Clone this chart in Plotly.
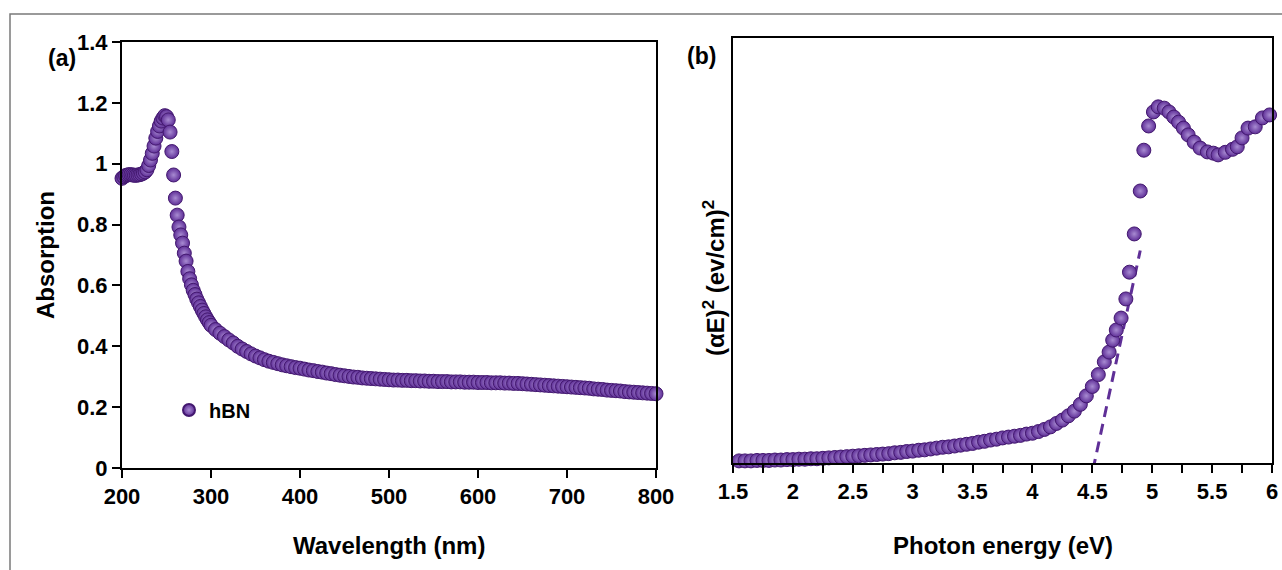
import plotly.graph_objects as go

# ---------------- data: panel (a) UV-vis absorption ----------------
wavelength_nm = [
    200, 202, 204, 206, 208, 210, 212, 214, 216, 218, 220, 222, 224, 226, 228,
    230, 232, 234, 236, 238, 240, 242, 244, 246, 248, 250, 252, 254, 256, 258,
    260, 262, 264, 266, 268, 270, 272, 274, 276, 278, 280, 282, 284, 286, 288,
    290, 292, 294, 296, 298, 300,
    305, 310, 315, 320, 325, 330, 335, 340, 345, 350, 355, 360, 365, 370, 375,
    380, 385, 390, 395, 400, 405, 410, 415, 420, 425, 430, 435, 440, 445, 450,
    455, 460, 465, 470, 475, 480, 485, 490, 495, 500, 505, 510, 515, 520, 525,
    530, 535, 540, 545, 550, 555, 560, 565, 570, 575, 580, 585, 590, 595, 600,
    605, 610, 615, 620, 625, 630, 635, 640, 645, 650, 655, 660, 665, 670, 675,
    680, 685, 690, 695, 700, 705, 710, 715, 720, 725, 730, 735, 740, 745, 750,
    755, 760, 765, 770, 775, 780, 785, 790, 795, 800,
]
absorption = [
    0.952, 0.957, 0.961, 0.963, 0.964, 0.964, 0.963, 0.962, 0.962, 0.963, 0.964,
    0.966, 0.969, 0.973, 0.980, 0.994, 1.012, 1.034, 1.058, 1.084, 1.106, 1.124,
    1.140, 1.150, 1.158, 1.155, 1.144, 1.104, 1.040, 0.963, 0.887, 0.831, 0.792,
    0.766, 0.739, 0.706, 0.680, 0.646, 0.622, 0.602, 0.584, 0.570, 0.555, 0.543,
    0.531, 0.519, 0.508, 0.497, 0.487, 0.478, 0.469,
    0.455, 0.443, 0.432, 0.421, 0.411, 0.400, 0.391, 0.383, 0.375, 0.368, 0.362,
    0.356, 0.351, 0.347, 0.343, 0.339, 0.336, 0.333, 0.330, 0.328, 0.325, 0.322,
    0.320, 0.317, 0.315, 0.312, 0.310, 0.307, 0.305, 0.303, 0.301, 0.299, 0.298,
    0.296, 0.295, 0.294, 0.293, 0.292, 0.291, 0.290, 0.289, 0.289, 0.288, 0.288,
    0.287, 0.287, 0.286, 0.286, 0.285, 0.285, 0.284, 0.284, 0.284, 0.283, 0.283,
    0.283, 0.282, 0.282, 0.282, 0.281, 0.281, 0.281, 0.280, 0.280, 0.280, 0.279,
    0.279, 0.278, 0.278, 0.277, 0.276, 0.275, 0.274, 0.273, 0.272, 0.271, 0.270,
    0.269, 0.268, 0.267, 0.266, 0.265, 0.264, 0.263, 0.262, 0.260, 0.259, 0.258,
    0.256, 0.255, 0.254, 0.253, 0.251, 0.250, 0.249, 0.248, 0.247, 0.246, 0.245,
    0.244,
]

# ---------------- data: panel (b) Tauc plot ----------------
photon_energy_eV = [
    1.55, 1.60, 1.65, 1.70, 1.75, 1.80, 1.85, 1.90, 1.95, 2.00, 2.05, 2.10, 2.15,
    2.20, 2.25, 2.30, 2.35, 2.40, 2.45, 2.50, 2.55, 2.60, 2.65, 2.70, 2.75, 2.80,
    2.85, 2.90, 2.95, 3.00, 3.05, 3.10, 3.15, 3.20, 3.25, 3.30, 3.35, 3.40, 3.45,
    3.50, 3.55, 3.60, 3.65, 3.70, 3.75, 3.80, 3.85, 3.90, 3.95, 4.00, 4.05, 4.10,
    4.15, 4.20, 4.25, 4.30, 4.35, 4.40, 4.45, 4.50, 4.55, 4.60, 4.64, 4.67, 4.70,
    4.74, 4.78, 4.81, 4.85, 4.90, 4.93, 4.97, 5.01, 5.05, 5.10, 5.14, 5.18, 5.22,
    5.26, 5.30, 5.35, 5.40, 5.46, 5.51, 5.55, 5.61, 5.67, 5.71, 5.75, 5.80, 5.86,
    5.92, 5.98,
]
tauc_value = [
    0.005, 0.005, 0.005, 0.006, 0.006, 0.006, 0.007, 0.007, 0.008, 0.008, 0.009,
    0.009, 0.010, 0.010, 0.011, 0.012, 0.013, 0.014, 0.015, 0.016, 0.017, 0.018,
    0.019, 0.020, 0.021, 0.022, 0.024, 0.025, 0.027, 0.028, 0.030, 0.031, 0.033,
    0.035, 0.037, 0.038, 0.040, 0.042, 0.044, 0.046, 0.049, 0.051, 0.054, 0.056,
    0.059, 0.061, 0.063, 0.065, 0.068, 0.070, 0.074, 0.079, 0.085, 0.093, 0.101,
    0.111, 0.122, 0.138, 0.158, 0.180, 0.208, 0.238, 0.261, 0.289, 0.313, 0.341,
    0.386, 0.449, 0.539, 0.640, 0.736, 0.793, 0.826, 0.838, 0.835, 0.826, 0.814,
    0.802, 0.788, 0.772, 0.755, 0.741, 0.732, 0.729, 0.725, 0.731, 0.738, 0.744,
    0.765, 0.788, 0.791, 0.812, 0.819,
]
# linear fit (band-gap extrapolation) end points
fit_energy_eV = [4.505, 4.90]
fit_value = [-0.016, 0.50]

x_ticks_a = [200, 300, 400, 500, 600, 700, 800]
y_ticks_a = [0, 0.2, 0.4, 0.6, 0.8, 1.0, 1.2, 1.4]
y_ticktext_a = ["0", "0.2", "0.4", "0.6", "0.8", "1", "1.2", "1.4"]
x_ticks_b = [1.5, 2, 2.5, 3, 3.5, 4, 4.5, 5, 5.5, 6]
x_ticktext_b = ["1.5", "2", "2.5", "3", "3.5", "4", "4.5", "5", "5.5", "6"]

# ---------------- styling ----------------
# the page body margin is removed (see post_script), so the figure fills the
# window and positions below are window pixels.
W, H = 1282, 570
PURPLE = "#5F2F97"
EDGE = "#43186F"
FONT = "Liberation Sans Narrow, Arial Narrow, Liberation Sans, Arial, sans-serif"

marker_style = dict(
    size=14, color=PURPLE,
    line=dict(color=EDGE, width=1),
    gradient=dict(type="radial", color="#A88BD2"),
)

def px_x(p):
    return p / W

def px_y(p):
    return (H - p) / H

fig = go.Figure()

fig.add_trace(go.Scatter(
    x=wavelength_nm, y=absorption, mode="markers", name="hBN",
    marker=marker_style, xaxis="x", yaxis="y", cliponaxis=False,
    showlegend=True,
))
fig.add_trace(go.Scatter(
    x=fit_energy_eV, y=fit_value, mode="lines",
    line=dict(color=PURPLE, width=3, dash="11px,7px"),
    xaxis="x2", yaxis="y2", showlegend=False,
))
fig.add_trace(go.Scatter(
    x=photon_energy_eV, y=tauc_value, mode="markers", name="hBN Tauc",
    marker=marker_style, xaxis="x2", yaxis="y2", cliponaxis=False,
    showlegend=False,
))

tickfont = dict(family=FONT, size=22, color="black", weight="bold")
axis_common = dict(
    showline=True, linecolor="black", linewidth=2, mirror=True,
    showgrid=False, zeroline=False, ticklen=8, automargin=False,
    tickwidth=2, tickcolor="black", tickfont=tickfont,
    ticklabeloverflow="allow",
)

fig.update_layout(
    width=W, height=H,
    margin=dict(l=0, r=0, t=0, b=0, autoexpand=False),
    paper_bgcolor="white", plot_bgcolor="white",
    font=dict(family=FONT, color="black"),
    xaxis=dict(domain=[px_x(122), px_x(656)], range=[200, 800],
               tickvals=x_ticks_a, anchor="y", ticks="outside", **axis_common),
    yaxis=dict(domain=[px_y(468), px_y(42)], range=[0, 1.4],
               tickvals=y_ticks_a, ticktext=y_ticktext_a, anchor="x",
               ticks="outside", **axis_common),
    xaxis2=dict(domain=[px_x(733), px_x(1272)], range=[1.5, 6],
                tickvals=x_ticks_b, ticktext=x_ticktext_b, anchor="y2",
                ticks="outside",
                minor=dict(dtick=0.25, tick0=1.5, ticks="outside", ticklen=8,
                           tickwidth=2, tickcolor="black"),
                **axis_common),
    yaxis2=dict(domain=[px_y(463), px_y(38)], range=[0, 1], anchor="x2",
                showticklabels=False, ticks="", **axis_common),
    legend=dict(x=px_x(169), y=px_y(410), xanchor="left", yanchor="middle",
                bgcolor="rgba(0,0,0,0)", itemwidth=30,
                font=dict(family=FONT, size=20, color="black", weight="bold"),
                itemsizing="constant"),
    showlegend=True,
)

title_font = dict(family=FONT, size=24, color="black", weight="bold")
label_font = dict(family=FONT, size=23, color="black", weight="bold")


def label(text, x, y, font, angle=0):
    fig.add_annotation(text=text, x=px_x(x), y=px_y(y), xref="paper",
                       yref="paper", showarrow=False, font=font,
                       xanchor="center", yanchor="middle", textangle=angle)


label("Wavelength (nm)", 389, 545, title_font)
label("Absorption", 46, 255, title_font, -90)
label("Photon energy (eV)", 1003, 545, title_font)
label("(αE)<sup>2</sup> (ev/cm)<sup>2</sup>", 714, 278, title_font, -90)
label("(a)", 62, 58, label_font)
label("(b)", 701, 56, label_font)

# outer frame of the figure
fig.add_shape(type="rect", xref="paper", yref="paper",
              x0=px_x(10), x1=1.01, y0=-0.01, y1=px_y(14),
              line=dict(color="#7a7a7a", width=1.5), fillcolor="rgba(0,0,0,0)",
              layer="below")

fig.write_html(
    "out.html",
    config={"displayModeBar": False},
    post_script="document.body.style.margin='0';document.body.style.overflow='hidden';",
)
